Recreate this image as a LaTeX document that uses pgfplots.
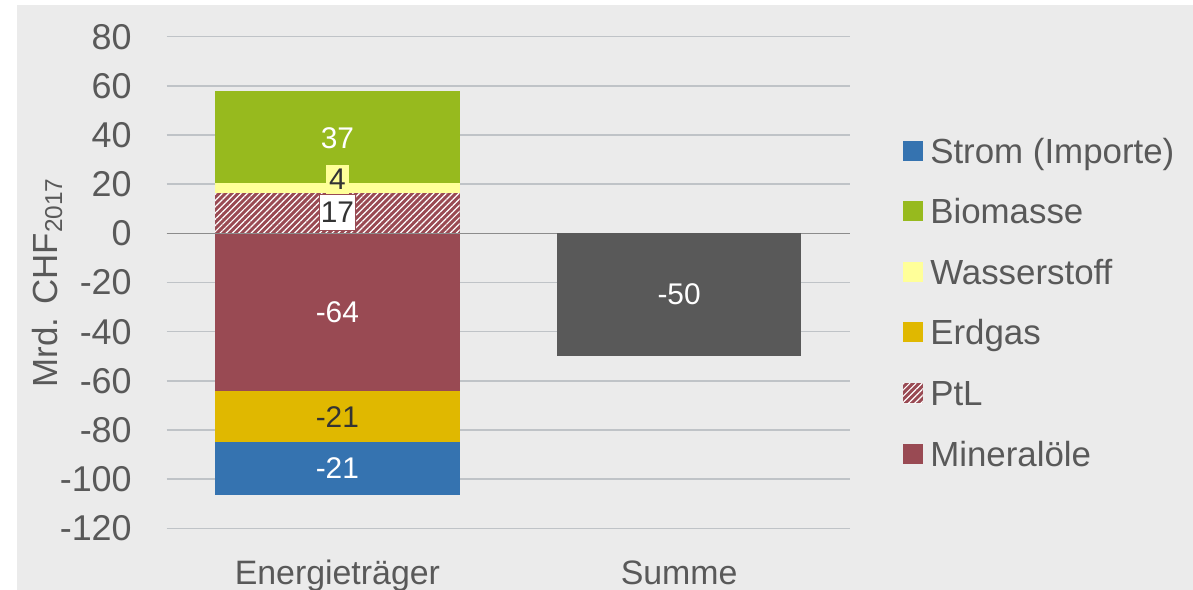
\documentclass[border=0pt]{standalone}
\usepackage{fontspec}
\setmainfont{Liberation Sans}
\usepackage{pgfplots}
\pgfplotsset{compat=1.18}
\usetikzlibrary{patterns.meta}

\definecolor{bg}{HTML}{EBEBEB}
\definecolor{gridc}{HTML}{BFC3C7}
\definecolor{zeroc}{HTML}{8C8C8C}
\definecolor{txt}{HTML}{595959}
\definecolor{dark}{HTML}{333333}
\definecolor{strom}{HTML}{3573B0}
\definecolor{bio}{HTML}{97BA1E}
\definecolor{wasser}{HTML}{FFFF99}
\definecolor{erdgas}{HTML}{E0B800}
\definecolor{mineral}{HTML}{994A53}
\definecolor{summe}{HTML}{595959}

\tikzset{hatch/.style={postaction={pattern={Lines[angle=45,distance=2.2bp,line width=0.6bp]}, pattern color=white}}}

\pgfplotsset{
  ybar legend/.style={legend image code/.code={\path[##1] (0bp,-5bp) rectangle (10bp,5bp);}},
  area legend/.style={legend image code/.code={\path[##1] (0bp,-5bp) rectangle (10bp,5bp);}},
  base/.style={
    at={(83.25bp,30.85bp)}, anchor=south west,
    scale only axis, width=341.75bp, height=245.8bp,
    xmin=-0.5, xmax=1.5, ymin=-120, ymax=80,
    axis line style={draw=none}, tick style={draw=none},
    bar width=122.3bp,
  },
  lbl/.style={every node near coord/.style={anchor=center, font=\fontsize{15}{15}\selectfont, #1}},
}

\begin{document}
\begin{tikzpicture}
\path[use as bounding box, fill=white] (0,0) rectangle (596.5bp,295bp);
\fill[bg] (8.5bp,0) rectangle (596.5bp,292.5bp);

\begin{axis}[base,
  ybar stacked,
  ytick={-120,-100,...,80},
  yticklabels={-120,-100,-80,-60,-40,-20,0,20,40,60,80},
  yticklabel style={anchor=east, inner sep=0pt, xshift=-17.25bp, font=\fontsize{18}{18}\selectfont, text=txt},
  xtick={0,1}, xticklabels={Energieträger,Summe},
  xticklabel style={anchor=base, inner sep=0pt, yshift=-27.9bp, font=\fontsize{17}{17}\selectfont, text=txt},
  ymajorgrids, major grid style={draw=gridc, line width=0.75bp},
  ylabel={Mrd. CHF\textsubscript{2017}},
  every axis y label/.style={at={(axis description cs:-0.1602,0.5)}, rotate=90, anchor=base, font=\fontsize{17.5}{17.5}\selectfont, text=txt},
  legend cell align=left,
  legend style={at={(axis description cs:1.0776,0.7935)}, anchor=north west,
    draw=none, fill=none, inner sep=0pt, outer sep=0pt,
    font=\fontsize{17.5}{17.5}\selectfont, text=txt,
    nodes={inner sep=0pt, text height=12.4bp, text depth=0pt},
    row sep=17.9bp,
    /tikz/every odd column/.append style={column sep=3.6bp}},
]
% negative stack (pgfplots stacks negative values separately)
\addplot[forget plot, fill=mineral, draw=none, nodes near coords={-64}, lbl={text=white}] coordinates {(0,-64.2)};
\addplot[forget plot, fill=erdgas, draw=none, nodes near coords={-21}, lbl={text=dark}] coordinates {(0,-20.7)};
\addplot[forget plot, fill=strom, draw=none, nodes near coords={-21}, lbl={text=white}] coordinates {(0,-21.4)};
% positive stack
\addplot[forget plot, fill=mineral, draw=none, hatch, nodes near coords={17}, lbl={yshift=0.4bp, text=dark, fill=white, draw=mineral, line width=0.5bp, inner xsep=0.6bp, inner ysep=4bp}] coordinates {(0,16.3)};
\addplot[forget plot, fill=wasser, draw=none, nodes near coords={4}, lbl={yshift=4.4bp, text=dark, fill=wasser, inner xsep=1.5bp, inner ysep=2bp}] coordinates {(0,4.2)};
\addplot[forget plot, fill=bio, draw=none, nodes near coords={37}, lbl={yshift=-0.7bp, text=white}] coordinates {(0,37.4)};

\addlegendimage{ybar legend, fill=strom, draw=none}
\addlegendentry{Strom (Importe)}
\addlegendimage{ybar legend, fill=bio, draw=none}
\addlegendentry{Biomasse}
\addlegendimage{ybar legend, fill=wasser, draw=none}
\addlegendentry{Wasserstoff}
\addlegendimage{ybar legend, fill=erdgas, draw=none}
\addlegendentry{Erdgas}
\addlegendimage{ybar legend, fill=mineral, draw=none, hatch}
\addlegendentry{PtL}
\addlegendimage{ybar legend, fill=mineral, draw=none}
\addlegendentry{Mineralöle}
\end{axis}

\begin{axis}[base,
  ybar,
  xtick=\empty, ytick={0}, yticklabels={},
  ymajorgrids, major grid style={draw=zeroc, line width=0.75bp},
]
\addplot[fill=summe, draw=none, nodes near coords={-50}, lbl={yshift=30.6bp, text=white}] coordinates {(1,-49.8)};
\end{axis}
\end{tikzpicture}
\end{document}
